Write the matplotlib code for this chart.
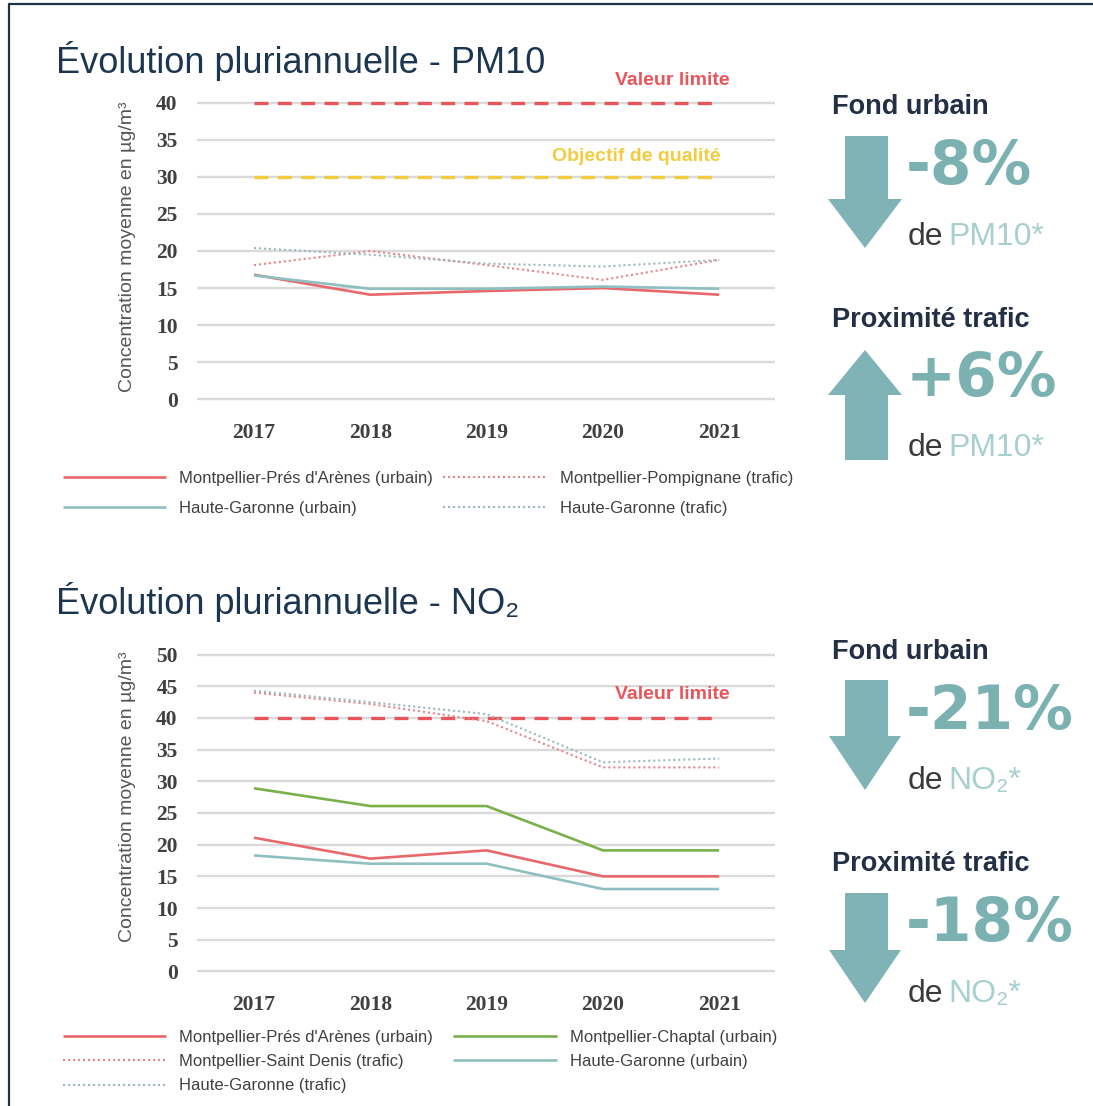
import numpy as np
import matplotlib
matplotlib.use('Agg')
import matplotlib.pyplot as plt
from matplotlib import font_manager
from matplotlib.font_manager import FontProperties
from matplotlib.patches import Polygon

installed = {f.name for f in font_manager.fontManager.ttflist}
NARROW = 'Liberation Sans Narrow' if 'Liberation Sans Narrow' in installed else 'Liberation Sans'
FAM = [NARROW, 'DejaVu Sans']

years = ['2017', '2018', '2019', '2020', '2021']

# PM10, moyennes annuelles en µg/m³
pm10_mpl_urbain = [16.8, 14.1, 14.6, 15.0, 14.1]
pm10_hg_urbain = [16.7, 14.9, 14.9, 15.2, 14.9]
pm10_mpl_trafic = [18.1, 20.0, 18.1, 16.1, 18.8]
pm10_hg_trafic = [20.4, 19.5, 18.3, 17.9, 18.8]
pm10_valeur_limite = 40
pm10_objectif = 30

# NO2, moyennes annuelles en µg/m³
no2_mpl_urbain = [21.1, 17.8, 19.1, 15.0, 15.0]
no2_chaptal = [28.9, 26.1, 26.1, 19.1, 19.1]
no2_hg_urbain = [18.3, 17.0, 17.0, 13.0, 13.0]
no2_mpl_trafic = [44.0, 42.2, 39.5, 32.2, 32.2]
no2_hg_trafic = [44.3, 42.5, 40.6, 33.0, 33.6]
no2_valeur_limite = 40

# évolutions affichées à droite
pm10_evol = ['-8%', '+6%']
no2_evol = ['-21%', '-18%']

RED = '#e8676a'
TEAL = '#8fbfc0'
GREEN = '#79b04a'
RED_DOT = '#e5868a'
TEAL_DOT = '#9db9bf'
GRID = '#dadada'
LIMIT_RED = '#e8555a'
LIMIT_YEL = '#f2cc3e'
NAVY = '#1c3652'
DARK = '#222f44'
ARROW = '#80b3b5'
PCT = '#7cb1b2'
LIGHT = '#a8cfd0'
TXT = '#404040'

W, H = 1093, 1106
fig = plt.figure(figsize=(W / 100, H / 100), dpi=100)
fig.patch.set_facecolor('white')


def px_box(l, t, r, b):
    return [l / W, 1 - b / H, (r - l) / W, (b - t) / H]


def style_axes(ax, ymax):
    ax.set_xlim(-0.49, 4.48)
    ax.set_ylim(-0.25, ymax + 0.25)
    ax.set_yticks(np.arange(0, ymax + 1, 5))
    ax.set_xticks(range(len(years)))
    ax.set_xticklabels(years)
    for s in ax.spines.values():
        s.set_visible(False)
    ax.yaxis.grid(True, color=GRID, lw=1.7)
    ax.set_axisbelow(True)
    ax.tick_params(length=0)
    ax.tick_params(axis='y', pad=14)
    ax.tick_params(axis='x', pad=16)
    tick_font = FontProperties(family='Liberation Serif', weight='bold', size=15.5)
    for lab in ax.get_xticklabels() + ax.get_yticklabels():
        lab.set_fontproperties(tick_font)
        lab.set_color(TXT)


def limit_line(ax, value, color):
    ax.plot(range(len(years)), [value] * len(years), color=color, lw=2.4,
            ls=(0, (4.2, 2.8)), zorder=2)


def limit_label(ax, x, value, text, color, offset):
    ax.annotate(text, xy=(x, value), xytext=(0, offset), textcoords='offset points',
                ha='center', va='center', color=color, fontsize=14,
                fontweight='bold', family=FAM)


solid = dict(lw=1.9, solid_capstyle='butt')
dotted = dict(lw=1.5, ls=(0, (1, 1.4)))
leg_font = FontProperties(family=FAM, size=12)
x = np.arange(len(years))

# ---- PM10 ----
ax1 = fig.add_axes(px_box(197, 101, 775, 401))
style_axes(ax1, 40)
limit_line(ax1, pm10_valeur_limite, LIMIT_RED)
limit_line(ax1, pm10_objectif, LIMIT_YEL)
limit_label(ax1, 3.6, pm10_valeur_limite, 'Valeur limite', LIMIT_RED, 16)
limit_label(ax1, 3.29, pm10_objectif, 'Objectif de qualité', LIMIT_YEL, 15)
l1, = ax1.plot(x, pm10_mpl_urbain, color=RED, **solid)
l2, = ax1.plot(x, pm10_hg_urbain, color=TEAL, **solid)
l3, = ax1.plot(x, pm10_mpl_trafic, color=RED_DOT, **dotted)
l4, = ax1.plot(x, pm10_hg_trafic, color=TEAL_DOT, **dotted)
ax1.legend([l1, l2, l3, l4],
           ["Montpellier-Prés d'Arènes (urbain)", 'Haute-Garonne (urbain)',
            'Montpellier-Pompignane (trafic)', 'Haute-Garonne (trafic)'],
           ncol=2, loc='upper left', bbox_to_anchor=(63 / W, 1 - 471 / H),
           bbox_transform=fig.transFigure, frameon=False, borderpad=0,
           borderaxespad=0, handlelength=6.2, handletextpad=0.78,
           columnspacing=0.6, labelspacing=0.87, prop=leg_font, labelcolor=TXT)

# ---- NO2 ----
ax2 = fig.add_axes(px_box(197, 653, 775, 973))
style_axes(ax2, 50)
limit_line(ax2, no2_valeur_limite, LIMIT_RED)
limit_label(ax2, 3.6, no2_valeur_limite, 'Valeur limite', LIMIT_RED, 17)
m1, = ax2.plot(x, no2_mpl_urbain, color=RED, **solid)
m2, = ax2.plot(x, no2_mpl_trafic, color=RED_DOT, **dotted)
m3, = ax2.plot(x, no2_hg_trafic, color=TEAL_DOT, **dotted)
m4, = ax2.plot(x, no2_chaptal, color=GREEN, **solid)
m5, = ax2.plot(x, no2_hg_urbain, color=TEAL, **solid)
ax2.legend([m1, m2, m3, m4, m5],
           ["Montpellier-Prés d'Arènes (urbain)", 'Montpellier-Saint Denis (trafic)',
            'Haute-Garonne (trafic)', 'Montpellier-Chaptal (urbain)',
            'Haute-Garonne (urbain)'],
           ncol=2, loc='upper left', bbox_to_anchor=(63 / W, 1 - 1030 / H),
           bbox_transform=fig.transFigure, frameon=False, borderpad=0,
           borderaxespad=0, handlelength=6.2, handletextpad=0.78,
           columnspacing=1.2, labelspacing=0.55, prop=leg_font, labelcolor=TXT)

# ---- titres, encadré, flèches ----
canvas = fig.add_axes([0, 0, 1, 1])
canvas.set_xlim(0, W)
canvas.set_ylim(H, 0)
canvas.axis('off')

canvas.plot([9, 9, W], [H, 4, 4], color='#1f3344', lw=1.6)

canvas.text(56, 73, 'Évolution pluriannuelle - PM10', fontsize=26, color=NAVY,
            family=FAM, va='baseline')
canvas.text(56, 614, 'Évolution pluriannuelle - NO₂', fontsize=26, color=NAVY,
            family=FAM, va='baseline')

ylab = 'Concentration moyenne en µg/m³'
canvas.text(127, 247, ylab, rotation=90, ha='center', va='center', fontsize=14,
            color='#555555', family=FAM)
canvas.text(127, 797, ylab, rotation=90, ha='center', va='center', fontsize=14,
            color='#555555', family=FAM)


def arrow(x0, x1, hx0, hx1, start, neck, tip):
    cx = (hx0 + hx1) / 2
    pts = [(x0, start), (x1, start), (x1, neck), (hx1, neck), (cx, tip),
           (hx0, neck), (x0, neck)]
    canvas.add_patch(Polygon(pts, closed=True, color=ARROW, lw=0))


def panel(head_y, head, pct_y, pct, sub_y, species):
    canvas.text(832, head_y, head, fontsize=19.5, fontweight='heavy', color=DARK,
                family=FAM, va='baseline')
    canvas.text(906, pct_y, pct, fontsize=43, fontweight='bold', color=PCT,
                family='DejaVu Sans', va='baseline')
    canvas.text(908, sub_y, 'de', fontsize=23, color='#3a3a3a', family=FAM,
                va='baseline')
    canvas.text(948, sub_y, species, fontsize=23, color=LIGHT, family=FAM,
                va='baseline')


panel(114, 'Fond urbain', 184, pm10_evol[0], 245, 'PM10*')
arrow(845, 888, 828, 902, 136, 199, 248)
panel(327, 'Proximité trafic', 396, pm10_evol[1], 456, 'PM10*')
arrow(845, 888, 828, 902, 460, 395, 350)

panel(659, 'Fond urbain', 729, no2_evol[0], 789, 'NO₂*')
arrow(845, 888, 829, 901, 680, 736, 790)
panel(871, 'Proximité trafic', 941, no2_evol[1], 1002, 'NO₂*')
arrow(845, 888, 829, 901, 893, 950, 1003)

fig.savefig('out.png', dpi=100)
